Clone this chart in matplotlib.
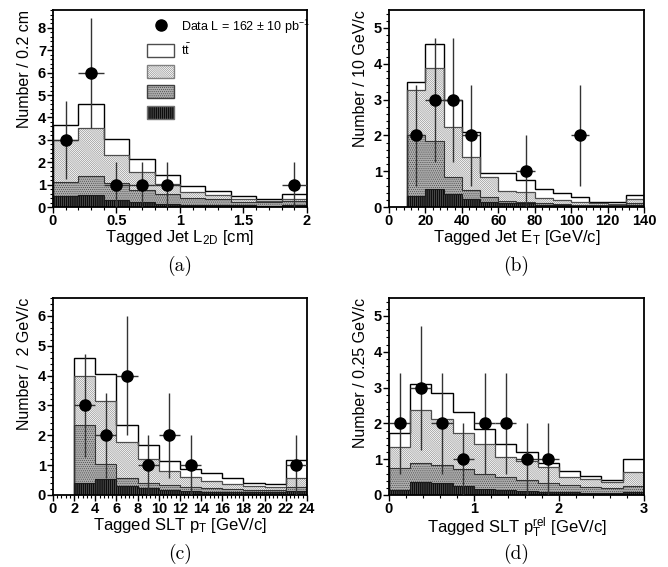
import numpy as np
import matplotlib
matplotlib.use("Agg")
import matplotlib.pyplot as plt
from matplotlib.patches import Patch
from matplotlib.lines import Line2D
from matplotlib.ticker import AutoMinorLocator

plt.rcParams['font.family'] = ['Liberation Sans', 'DejaVu Sans']
plt.rcParams['mathtext.default'] = 'regular'
plt.rcParams['hatch.linewidth'] = 0.4

# (a) decay length, bins of 0.2 cm -- cumulative stack tops
a_edges = np.arange(0, 2.01, 0.2)
a_top   = [3.67, 4.61, 3.04, 2.13, 1.43, 0.94, 0.72, 0.49, 0.34, 0.57]
a_hatch = [3.00, 3.54, 2.31, 1.55, 1.03, 0.69, 0.54, 0.36, 0.28, 0.34]
a_dot   = [1.13, 1.39, 1.07, 0.76, 0.57, 0.42, 0.34, 0.24, 0.21, 0.27]
a_dark  = [0.49, 0.54, 0.31, 0.22, 0.13, 0.10, 0.09, 0.07, 0.06, 0.07]
a_x = [0.1, 0.3, 0.5, 0.7, 0.9, 1.9]
a_n = [3, 6, 1, 1, 1, 1]

# (b) jet ET, bins of 10 GeV/c
b_edges = np.arange(10, 141, 10)
b_top   = [3.50, 4.55, 3.00, 2.10, 0.94, 0.95, 0.75, 0.50, 0.40, 0.28, 0.15, 0.13, 0.34]
b_hatch = [3.28, 3.88, 2.24, 1.41, 0.85, 0.45, 0.42, 0.25, 0.20, 0.15, 0.10, 0.08, 0.22]
b_dot   = [2.02, 1.85, 0.85, 0.48, 0.28, 0.18, 0.15, 0.10, 0.08, 0.06, 0.05, 0.05, 0.10]
b_dark  = [0.30, 0.50, 0.35, 0.22, 0.15, 0.12, 0.10, 0.07, 0.05, 0.04, 0.03, 0.03, 0.05]
b_x = [15, 25, 35, 45, 75, 105]
b_n = [2, 3, 3, 2, 1, 2]

# (c) SLT pT, bins of 2 GeV/c
c_edges = np.arange(2, 25, 2)
c_top   = [4.60, 4.04, 2.35, 1.68, 1.15, 0.86, 0.73, 0.56, 0.41, 0.38, 1.16]
c_hatch = [4.00, 3.14, 1.77, 1.22, 0.80, 0.59, 0.47, 0.37, 0.30, 0.28, 0.58]
c_dot   = [2.35, 1.03, 0.56, 0.39, 0.32, 0.27, 0.23, 0.20, 0.18, 0.17, 0.26]
c_dark  = [0.41, 0.53, 0.29, 0.22, 0.17, 0.13, 0.11, 0.10, 0.09, 0.09, 0.12]
c_x = [3, 5, 7, 9, 11, 13, 23]
c_n = [3, 2, 4, 1, 2, 1, 1]

# (d) SLT pT rel, bins of 0.25 GeV/c
d_edges = np.arange(0, 3.01, 0.25)
d_top   = [1.73, 3.10, 2.84, 2.32, 1.83, 1.42, 1.21, 0.88, 0.67, 0.54, 0.42, 1.01]
d_hatch = [1.33, 2.36, 2.11, 1.74, 1.41, 1.07, 0.94, 0.79, 0.51, 0.44, 0.35, 0.65]
d_dot   = [0.74, 0.90, 0.83, 0.72, 0.60, 0.49, 0.42, 0.34, 0.28, 0.23, 0.19, 0.24]
d_dark  = [0.14, 0.36, 0.34, 0.25, 0.18, 0.14, 0.11, 0.09, 0.07, 0.06, 0.05, 0.09]
d_x = [0.125, 0.375, 0.625, 0.875, 1.125, 1.375, 1.625, 1.875]
d_n = [2, 3, 2, 1, 2, 2, 1, 1]

# layer styles: (facecolor, hatch, hatch colour)
s_top = ('white', None, 'black')
s_hatch = ('white', '\\' * 16, '0.5')
s_dot = ('0.68', '.' * 8, '0.25')
s_dark = ('0.05', '|' * 8, '0.45')

fig = plt.figure(figsize=(6.68, 5.67), dpi=100)


def panel(pos, edges, layers, xs, ns, xlim, ylim, xticks, xtlab, xlabel, ylabel, caption):
    ax = fig.add_axes(pos)
    for vals, (fc, hat, hc) in zip(layers, [s_top, s_hatch, s_dot, s_dark]):
        ax.stairs(vals, edges, fill=True, facecolor=fc, hatch=hat, edgecolor=hc, linewidth=0)
    ax.stairs(layers[0], edges, baseline=0, color='black', lw=1.0)
    ax.stairs(layers[1], edges, baseline=0, color='0.3', lw=0.9)
    ax.stairs(layers[2], edges, baseline=0, color='0.2', lw=0.8)
    ax.stairs(layers[3], edges, baseline=0, color='0.1', lw=0.8)
    w = edges[1] - edges[0]
    ns = np.array(ns, dtype=float)
    ax.errorbar(xs, ns, yerr=np.sqrt(ns), xerr=w / 2, fmt='o', color='black',
                ms=8, ecolor='0.2', elinewidth=1.0, capsize=0, zorder=5)
    ax.set_xlim(*xlim)
    ax.set_ylim(*ylim)
    ax.set_xticks(xticks)
    ax.set_xticklabels(xtlab, fontweight='bold', fontsize=10.5)
    yt = np.arange(0, int(ylim[1]) + 1)
    ax.set_yticks(yt)
    ax.set_yticklabels([str(v) for v in yt], fontweight='bold', fontsize=10.5)
    ax.yaxis.set_minor_locator(AutoMinorLocator(5))
    ax.xaxis.set_minor_locator(AutoMinorLocator(5))
    ax.tick_params(which='major', direction='out', length=4, width=1, pad=1)
    ax.tick_params(which='minor', direction='out', length=2, width=0.8)
    for sp in ax.spines.values():
        sp.set_linewidth(1.3)
    ax.set_xlabel(xlabel, fontsize=12, labelpad=0)
    ax.set_ylabel(ylabel, fontsize=11.5, labelpad=4, loc='top')
    ax.text(0.5, -0.3, caption, transform=ax.transAxes, ha='center', va='center',
            fontsize=14, family='cmr10')
    return ax


axa = panel([0.0793, 0.6349, 0.3802, 0.3474], a_edges, [a_top, a_hatch, a_dot, a_dark],
            a_x, a_n, (0, 2), (0, 8.8), [0, 0.5, 1, 1.5, 2], ['0', '0.5', '1', '1.5', '2'],
            'Tagged Jet L$_{2D}$ [cm]', 'Number / 0.2 cm', '(a)')
panel([0.5823, 0.6349, 0.3817, 0.3474], b_edges, [b_top, b_hatch, b_dot, b_dark],
      b_x, b_n, (0, 140), (0, 5.5), np.arange(0, 141, 20), [str(v) for v in range(0, 141, 20)],
      'Tagged Jet E$_T$ [GeV/c]', 'Number / 10 GeV/c', '(b)')
panel([0.0793, 0.1270, 0.3802, 0.3474], c_edges, [c_top, c_hatch, c_dot, c_dark],
      c_x, c_n, (0, 24), (0, 6.6), np.arange(0, 25, 2), [str(v) for v in range(0, 25, 2)],
      'Tagged SLT p$_T$ [GeV/c]', 'Number /  2 GeV/c', '(c)')
panel([0.5823, 0.1270, 0.3817, 0.3474], d_edges, [d_top, d_hatch, d_dot, d_dark],
      d_x, d_n, (0, 3), (0, 5.5), [0, 1, 2, 3], ['0', '1', '2', '3'],
      'Tagged SLT p$_T^{rel}$ [GeV/c]', 'Number / 0.25 GeV/c', '(d)')

handles = [
    Line2D([], [], marker='o', ls='none', color='black', ms=8),
    Patch(facecolor=s_top[0], edgecolor='0.3', lw=1.0),
    Patch(facecolor=s_hatch[0], hatch=s_hatch[1], edgecolor=s_hatch[2], lw=1.0),
    Patch(facecolor=s_dot[0], hatch=s_dot[1], edgecolor=s_dot[2], lw=1.0),
    Patch(facecolor=s_dark[0], hatch=s_dark[1], edgecolor=s_dark[2], lw=1.0),
]
labels = ['Data L = 162 $\\pm$ 10 pb$^{-1}$', 't$\\bar{t}$', '', '', '']
axa.legend(handles, labels, loc='upper left', bbox_to_anchor=(0.34, 1.0), frameon=False,
           fontsize=9, handlelength=2.2, handleheight=1.2, labelspacing=0.55,
           handletextpad=0.5, borderaxespad=0.2)

fig.savefig('out.png', dpi=100)
